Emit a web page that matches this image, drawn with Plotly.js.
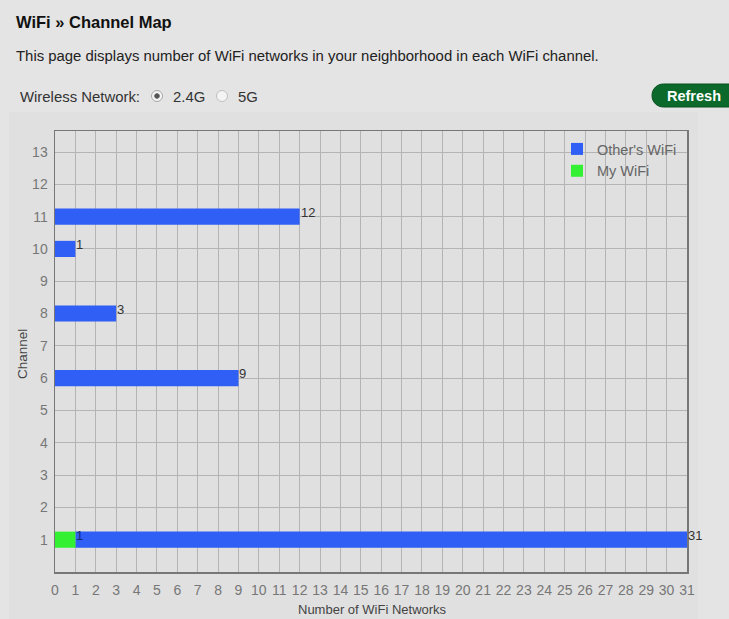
<!DOCTYPE html>
<html>
<head>
<meta charset="utf-8">
<script src="https://cdn.plot.ly/plotly-3.0.1.min.js"></script>
<style>
html,body{margin:0;padding:0;background:#e4e4e4;overflow:hidden;}
#chart{width:729px;height:619px;}
</style>
</head>
<body>
<div id="chart"></div>
<script>
// ---- data ----
const channels = [1,2,3,4,5,6,7,8,9,10,11,12,13];
const othersWiFi = [31,0,0,0,0,9,0,3,0,1,12,0,0];
const myWiFi = [1,0,0,0,0,0,0,0,0,0,0,0,0];
const xTicks = Array.from({length:32},(_,i)=>i);
const seriesNames = ["Other's WiFi","My WiFi"];
const pageTitle = "WiFi \u00BB Channel Map";
const pageDesc = "This page displays number of WiFi networks in your neighborhood in each WiFi channel.";
const bandLabel = "Wireless Network:";
const bands = ["2.4G","5G"];
const buttonLabel = "Refresh";
const xTitle = "Number of WiFi Networks";
const yTitle = "Channel";

// ---- geometry helpers (pixel -> paper) ----
const W=729,H=619,L=55,R=687,T=131,B=572;
const px=x=>(x-L)/(R-L);
const py=y=>(B-y)/(B-T);
const XMAX=31;

const FONT="Liberation Sans, Arial, sans-serif";
const blue="#2f5ff4", green="#33f033";

const traces=[
  {type:'bar',orientation:'h',name:seriesNames[0],x:othersWiFi,y:channels,base:myWiFi,
   marker:{color:blue},hoverinfo:'x+y+name'},
  {type:'bar',orientation:'h',name:seriesNames[1],x:myWiFi,y:channels,
   marker:{color:green},hoverinfo:'x+y+name'}
];

const annotations=[];
// value labels
channels.forEach((c,i)=>{
  if(myWiFi[i]>0){
    annotations.push({x:Math.min(myWiFi[i],XMAX),y:c+0.13,xref:'x',yref:'y',text:String(myWiFi[i]),
      showarrow:false,xanchor:'left',yanchor:'middle',xshift:-1,font:{family:FONT,size:13,color:'#1a2a70'}});
  }
  if(othersWiFi[i]>0){
    annotations.push({x:Math.min(myWiFi[i]+othersWiFi[i],XMAX),y:c+0.13,xref:'x',yref:'y',text:String(othersWiFi[i]),
      showarrow:false,xanchor:'left',yanchor:'middle',xshift:-1,font:{family:FONT,size:13,color:'#333'}});
  }
});
// header texts
annotations.push({xref:'paper',yref:'paper',x:px(14),y:py(22),xanchor:'left',yanchor:'middle',showarrow:false,
  text:'<b>'+pageTitle+'</b>',font:{family:FONT,size:16.5,color:'#111'}});
annotations.push({xref:'paper',yref:'paper',x:px(14),y:py(56),xanchor:'left',yanchor:'middle',showarrow:false,
  text:pageDesc,font:{family:FONT,size:14.9,color:'#222'}});
annotations.push({xref:'paper',yref:'paper',x:px(18),y:py(97),xanchor:'left',yanchor:'middle',showarrow:false,
  text:bandLabel,font:{family:FONT,size:14.9,color:'#333'}});
annotations.push({xref:'paper',yref:'paper',x:px(171),y:py(97),xanchor:'left',yanchor:'middle',showarrow:false,
  text:bands[0],font:{family:FONT,size:14.9,color:'#333'}});
annotations.push({xref:'paper',yref:'paper',x:px(236),y:py(97),xanchor:'left',yanchor:'middle',showarrow:false,
  text:bands[1],font:{family:FONT,size:14.9,color:'#333'}});
annotations.push({xref:'paper',yref:'paper',x:px(694),y:py(96),xanchor:'center',yanchor:'middle',showarrow:false,
  text:'<b>'+buttonLabel+'</b>',font:{family:FONT,size:14.5,color:'#ffffff'}});
// x axis title (near bottom edge)
annotations.push({xref:'paper',yref:'paper',x:px(372),y:py(618.5),xanchor:'center',yanchor:'bottom',showarrow:false,
  text:xTitle,font:{family:FONT,size:13,color:'#444'}});
// y axis title
annotations.push({xref:'paper',yref:'paper',x:px(22),y:py(354),xanchor:'center',yanchor:'middle',showarrow:false,
  textangle:-90,text:yTitle,font:{family:FONT,size:13.5,color:'#444'}});

function circle(cx,cy,r,fill,line){
  return {type:'circle',xref:'paper',yref:'paper',x0:px(cx-r),x1:px(cx+r),y0:py(cy+r),y1:py(cy-r),
    fillcolor:fill,line:{color:line,width:1},layer:'above'};
}
const shapes=[
  // chart panel
  {type:'rect',xref:'paper',yref:'paper',x0:px(9),x1:px(698),y0:py(619),y1:py(112),
   fillcolor:'#e0e0e0',line:{width:0},layer:'below'},
  circle(157,96,5.5,'#f4f4f4','#a8a8a8'),
  circle(157,96,2.3,'#555','#555'),
  circle(222,96,5.5,'#f4f4f4','#c0c0c0'),
  // refresh button
  {type:'path',xref:'paper',yref:'paper',layer:'above',fillcolor:'#0b6a2b',line:{color:'#07501f',width:1},
   path:`M ${px(663.5)},${py(84)} L ${px(745)},${py(84)} L ${px(745)},${py(107)} L ${px(663.5)},${py(107)} `+
        `C ${px(657)},${py(107)} ${px(652)},${py(102)} ${px(652)},${py(95.5)} `+
        `C ${px(652)},${py(89)} ${px(657)},${py(84)} ${px(663.5)},${py(84)} Z`}
];

const layout={
  width:W,height:H,
  margin:{l:L,r:W-R,t:T,b:H-B,pad:0},
  paper_bgcolor:'#e4e4e4',plot_bgcolor:'#e0e0e0',
  font:{family:FONT,size:14,color:'#777'},
  barmode:'overlay',bargap:0.5,
  showlegend:true,
  legend:{x:px(557),y:py(133),xanchor:'left',yanchor:'top',bgcolor:'rgba(0,0,0,0)',traceorder:'normal',
    font:{family:FONT,size:14.5,color:'#666'},tracegroupgap:0,itemwidth:30},
  xaxis:{range:[0,XMAX],tickvals:xTicks,ticktext:xTicks.map(String),showgrid:true,gridcolor:'#b4b4b4',gridwidth:1,
    zeroline:false,showline:true,linecolor:'#777',linewidth:1.5,mirror:true,ticks:'outside',ticklen:5,tickcolor:'rgba(0,0,0,0)',
    tickfont:{family:FONT,size:14,color:'#777'},fixedrange:true},
  yaxis:{range:[0,13.65],tickvals:channels,ticktext:channels.map(String),showgrid:true,gridcolor:'#b4b4b4',gridwidth:1,
    zeroline:false,showline:true,linecolor:'#777',linewidth:1.5,mirror:true,ticks:'outside',ticklen:3,tickcolor:'rgba(0,0,0,0)',
    tickfont:{family:FONT,size:14,color:'#777'},fixedrange:true},
  annotations:annotations,
  shapes:shapes
};
Plotly.newPlot('chart',traces,layout,{displayModeBar:false,staticPlot:true});
</script>
</body>
</html>
